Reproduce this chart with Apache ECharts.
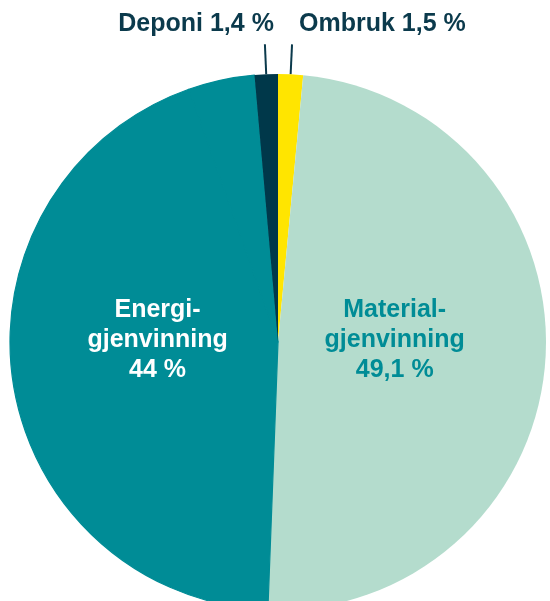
<!DOCTYPE html>
<html lang="no">
<head>
    <meta charset="UTF-8">
    <title>Avfallsbehandling</title>
    <script src="https://cdn.jsdelivr.net/npm/echarts@6.0.0/dist/echarts.min.js"></script>
    <style>
        body { margin: 0; padding: 0; background: #ffffff; }
        #chart { width: 550px; height: 601px; }
    </style>
</head>
<body>
    <div id="chart"></div>
    <script>
        // data, clockwise from the top; the teal arc is drawn ~4 % wider than
        // the 44 % it is labelled with, so the unlabelled rest is kept as its own entry
        const names = ['Ombruk', 'Materialgjenvinning', 'Energigjenvinning', 'Annet', 'Deponi'];
        const labelTexts = ['Ombruk', 'Material-\ngjenvinning', 'Energi-\ngjenvinning', '', 'Deponi'];
        const values = [1.5, 49.1, 44, 4, 1.4];
        const colors = ['#ffe500', '#b4dccd', '#008c96', '#008c96', '#00384a'];
        const textColors = ['#0b3a4c', '#008c96', '#ffffff', '#ffffff', '#0b3a4c'];

        const chart = echarts.init(document.getElementById('chart'));

        function pct(v) {
            return String(v).replace('.', ',') + ' %';
        }

        const data = names.map(function (n, i) {
            const small = values[i] < 2;
            const hidden = labelTexts[i] === '';
            const teal = colors[i] === '#008c96';
            return {
                name: n,
                value: values[i],
                // border in the slice's own colour hides the seam between the two teal parts
                itemStyle: { color: colors[i], borderColor: colors[i], borderWidth: teal ? 1.2 : 0 },
                label: {
                    show: !hidden,
                    position: small ? 'outside' : 'inside',
                    color: textColors[i],
                    formatter: small
                        ? labelTexts[i] + ' ' + pct(values[i])
                        : labelTexts[i] + '\n' + pct(values[i]),
                    lineHeight: 30
                },
                labelLine: {
                    show: small,
                    length: 30,
                    length2: 0,
                    lineStyle: { color: '#0b3a4c', width: 2 }
                }
            };
        });

        chart.setOption({
            backgroundColor: '#ffffff',
            animation: false,
            series: [{
                type: 'pie',
                center: [278, 342],
                radius: [0, 268],
                startAngle: 90,
                clockwise: true,
                avoidLabelOverlap: false,
                label: {
                    fontFamily: 'Liberation Sans, Arial, sans-serif',
                    fontWeight: 'bold',
                    fontSize: 25,
                    align: 'center'
                },
                labelLayout: function (p) {
                    if (p.dataIndex === 0) return { dx: 2, dy: -20 };
                    if (p.dataIndex === 1) return { dx: -20, dy: -11 };
                    if (p.dataIndex === 2) return { dx: 15, dy: -22 };
                    if (p.dataIndex === 4) return { dx: 14, dy: -20 };
                    return {};
                },
                data: data
            }]
        });
    </script>
</body>
</html>
